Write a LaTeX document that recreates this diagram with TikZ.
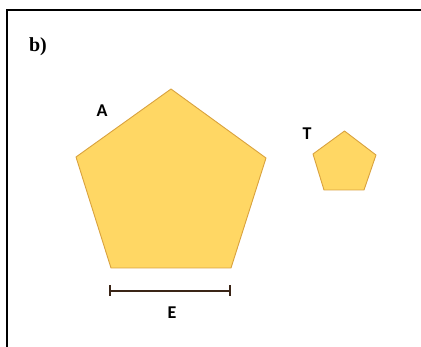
\documentclass[tikz,border=0pt]{standalone}
\usepackage{fontspec}
\setmainfont{Liberation Serif}
\newfontfamily\lblfont{Carlito}
\definecolor{penfill}{HTML}{FFD764}
\definecolor{penline}{HTML}{D9A23E}
\definecolor{barcol}{HTML}{3A2517}
\tikzset{
  pent/.style={fill=penfill, draw=penline, line width=0.9pt, line join=round},
  lbl/.style={font=\lblfont\bfseries\fontsize{18}{20}\selectfont, inner sep=0pt},
  frameline/.style={draw=black, line width=2pt},
  measbar/.style={draw=barcol, line width=2.6pt}
}
\begin{document}
\begin{tikzpicture}[x=1pt,y=-1pt]
\useasboundingbox (0,0) rectangle (421,347);
% frame
\draw[frameline] (425,10.5) -- (6.5,10.5) -- (6.5,352);
\node[font=\bfseries\fontsize{20}{22}\selectfont, inner sep=0pt] (b) at (38,47) {b)};
% big pentagon
\coordinate (A1) at (171,89);
\coordinate (A2) at (266,158);
\coordinate (A3) at (231,268);
\coordinate (A4) at (111,268);
\coordinate (A5) at (76,157);
\draw[pent] (A1) -- (A2) -- (A3) -- (A4) -- (A5) -- cycle;
% small pentagon
\coordinate (T1) at (344.5,131);
\coordinate (T2) at (376,155);
\coordinate (T3) at (364,190);
\coordinate (T4) at (324,190);
\coordinate (T5) at (313,154);
\draw[pent] (T1) -- (T2) -- (T3) -- (T4) -- (T5) -- cycle;
% labels
\node[lbl] (la) at (102,111) {A};
\node[lbl] (lt) at (307,134) {T};
\node[lbl] (le) at (172,313) {E};
% measure bar
\coordinate (E1) at (110,291);
\coordinate (E2) at (230,291);
\draw[measbar] (E1) -- (E2);
\draw[barcol, line width=2pt] (110,285.5) -- (110,296.5);
\draw[barcol, line width=2pt] (230,285.5) -- (230,296.5);
\end{tikzpicture}
\end{document}
